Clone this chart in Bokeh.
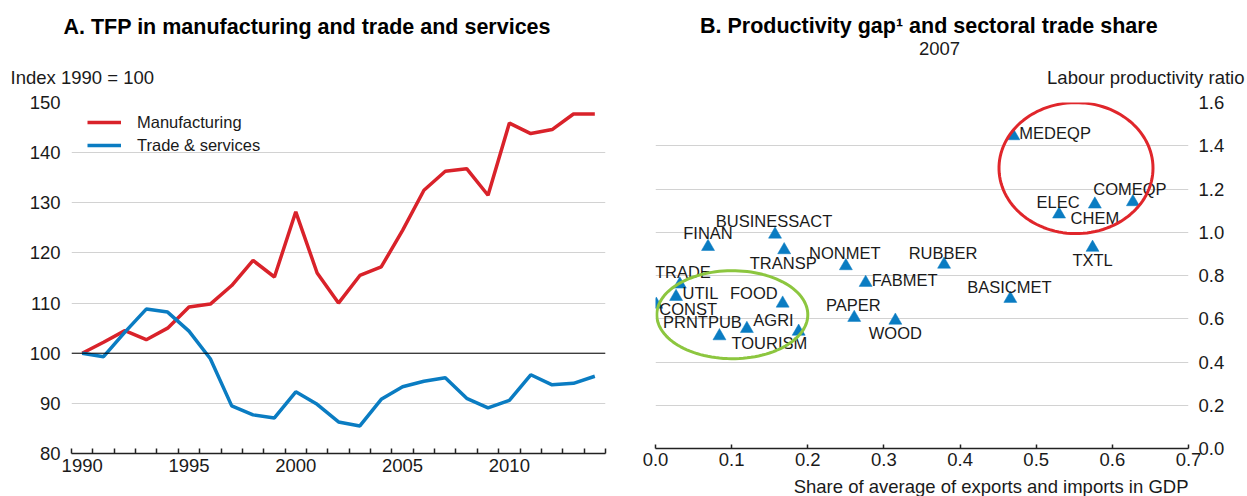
import numpy as np
from bokeh.plotting import figure
from bokeh.layouts import row, column
from bokeh.models import (FixedTicker, Span, Legend, ColumnDataSource,
                          NumeralTickFormatter, PolyAnnotation, Range1d)
from bokeh.core.properties import value
from bokeh.embed import file_html
from bokeh.resources import INLINE

# ---------------- data ----------------
years = list(range(1990, 2015))
manufacturing = [100, 102.2, 104.5, 102.7, 105.0, 109.2, 109.8, 113.5, 118.5, 115.2,
                 128.2, 116.0, 110.0, 115.5, 117.2, 124.5, 132.5, 136.3, 136.8, 131.5,
                 145.9, 143.8, 144.6, 147.7, 147.7]
trade_services = [100, 99.3, 104.2, 108.8, 108.2, 104.4, 98.9, 89.5, 87.7, 87.1,
                  92.3, 89.8, 86.3, 85.5, 90.8, 93.3, 94.4, 95.1, 91.0, 89.1,
                  90.6, 95.7, 93.7, 94.0, 95.4]
year_ticks = [1990, 1995, 2000, 2005, 2010]
left_y_ticks = [80, 90, 100, 110, 120, 130, 140, 150]

sectors = ["MEDEQP", "ELEC", "CHEM", "COMEQP", "TXTL", "RUBBER", "BASICMET",
           "BUSINESSACT", "FINAN", "TRANSP", "NONMET", "FABMET", "TRADE", "UTIL",
           "CONST", "FOOD", "AGRI", "PRNTPUB", "TOURISM", "PAPER", "WOOD"]
trade_share = [0.470, 0.530, 0.577, 0.627, 0.574, 0.379, 0.466,
               0.157, 0.069, 0.169, 0.250, 0.276, 0.032, 0.027,
               0.001, 0.167, 0.188, 0.120, 0.084, 0.261, 0.315]
prod_ratio = [1.445, 1.083, 1.129, 1.140, 0.929, 0.851, 0.693,
              0.990, 0.933, 0.918, 0.844, 0.767, 0.759, 0.702,
              0.666, 0.671, 0.541, 0.554, 0.520, 0.605, 0.592]
right_x_ticks = [0.0, 0.1, 0.2, 0.3, 0.4, 0.5, 0.6, 0.7]
right_y_ticks = [0.0, 0.2, 0.4, 0.6, 0.8, 1.0, 1.2, 1.4, 1.6]

# ---------------- styles / layout ----------------
FONT = "Liberation Sans"
RED = "#d9222a"
BLUE = "#0a7cc2"
GRID = "#d2d2d2"
TXT = "#1a1a1a"

W, H = 1247, 496
HEADER_H = 88
FOOTER_H = 20
SPLIT = 628                       # page x where the right panel starts
L_LEFT, L_TOP, L_W, L_H = 71, 102, 534, 351      # left frame (page px)
R_LEFT, R_TOP, R_W, R_H = 655, 102, 533, 346     # right frame (page px)

# label placement for scatter labels: (align, dx px, dy px downwards)
label_pos = {
    "MEDEQP": ("left", 6, -3), "ELEC": ("center", -1, -12.6), "CHEM": ("center", 0, 13.4),
    "COMEQP": ("center", -3, -13.4), "TXTL": ("center", 0, 12.8), "RUBBER": ("center", -1, -11.1),
    "BASICMET": ("center", -1, -12.1), "BUSINESSACT": ("center", -1, -13.3),
    "FINAN": ("center", 0, -13.4), "TRANSP": ("center", -1, 12.8), "NONMET": ("center", -1, -12.7),
    "FABMET": ("left", 6, -3.1), "TRADE": ("center", 3, -12.4), "UTIL": ("left", 6.5, -3.4),
    "CONST": ("left", 3, 4.2), "FOOD": ("right", -5, -10.8), "AGRI": ("right", -5, -11.5),
    "PRNTPUB": ("right", -5, -6.2), "TOURISM": ("left", 12, 6.5), "PAPER": ("center", -1, -12.7),
    "WOOD": ("center", 0, 12.9),
}

# texts outside the plot frames, placed in page pixels: (x, y, text, align, size, bold)
header_texts = [
    (306.7, 26.7, "A. TFP in manufacturing and trade and services", "center", "21.5px", True),
    (10, 76.5, "Index 1990 = 100", "left", "18.5px", False),
    (928.3, 25.0, "B. Productivity gap¹ and sectoral trade share", "center", "21.5px", True),
    (939, 48.3, "2007", "center", "18.5px", False),
    (1244, 76.5, "Labour productivity ratio", "right", "18.5px", False),
]
footer_texts = [
    (1188, 485.5, "Share of average of exports and imports in GDP", "right", "18.5px", False),
]


def style_common(p):
    p.outline_line_color = None
    p.background_fill_color = "white"
    p.border_fill_color = "white"
    p.xgrid.visible = False
    p.ygrid.grid_line_color = GRID
    p.ygrid.grid_line_width = 1
    for ax in (p.xaxis[0], p.yaxis[0]):
        ax.major_label_text_font = FONT
        ax.major_label_text_font_size = "18.5px"
        ax.major_label_text_color = TXT


def text_band(width, height, x0, y0, texts, border_left=0, border_right=0):
    """A bare figure used as a band of text; its frame spans page pixels
    x0 + border_left .. x0 + width - border_right and y0 .. y0 + height."""
    p = figure(width=width, height=height, output_backend="svg", toolbar_location=None,
               x_axis_type=None, y_axis_type=None,
               x_range=Range1d(x0 + border_left, x0 + width - border_right),
               y_range=Range1d(y0 + height, y0),
               min_border=0, min_border_left=border_left, min_border_right=border_right,
               outline_line_color=None)
    p.background_fill_color = "white"
    p.border_fill_color = "white"
    for (x, y, txt, align, size, bold) in texts:
        p.text(x=[x], y=[y], text=[txt], text_align=align, text_baseline="middle",
               text_font=value(FONT), text_font_size=size,
               text_font_style="bold" if bold else "normal",
               text_color="black" if bold else TXT)
    return p


# ---------------- left panel ----------------
p1_h = H - HEADER_H
p1 = figure(width=SPLIT, height=p1_h, output_backend="svg", toolbar_location=None,
            x_range=Range1d(1989.5, 2014.5), y_range=Range1d(80, 150),
            min_border_left=L_LEFT, min_border_right=SPLIT - L_LEFT - L_W,
            min_border_top=L_TOP - HEADER_H,
            min_border_bottom=p1_h - (L_TOP - HEADER_H) - L_H)
style_common(p1)
p1.yaxis.ticker = FixedTicker(ticks=left_y_ticks)
p1.yaxis.axis_line_color = None
p1.yaxis.major_tick_in = 0
p1.yaxis.major_tick_out = 0
p1.yaxis.minor_tick_line_color = None
p1.yaxis.major_label_standoff = 11
p1.xaxis.ticker = FixedTicker(ticks=year_ticks,
                              minor_ticks=[y - 0.5 for y in years] + [years[-1] + 0.5])
p1.xaxis.major_tick_in = 0
p1.xaxis.major_tick_out = 0
p1.xaxis.minor_tick_in = 5
p1.xaxis.minor_tick_out = 0
p1.xaxis.minor_tick_line_color = "#222222"
p1.xaxis.minor_tick_line_width = 1.5
p1.xaxis.axis_line_color = "#222222"
p1.xaxis.axis_line_width = 1.5
p1.xaxis.major_label_standoff = 5

p1.add_layout(Span(location=100, dimension="width", line_color="black", line_width=1))

r1 = p1.line(years, manufacturing, line_color=RED, line_width=3.5)
r2 = p1.line(years, trade_services, line_color=BLUE, line_width=3.5)

leg = Legend(items=[("Manufacturing", [r1]), ("Trade & services", [r2])],
             location=(16, 298), padding=0, margin=0, spacing=3,
             glyph_width=34, glyph_height=20, label_height=20, label_standoff=16,
             label_text_font=FONT, label_text_font_size="16.5px", label_text_color=TXT,
             border_line_alpha=0, background_fill_alpha=0)
p1.add_layout(leg)

# ---------------- right panel ----------------
p2_w = W - SPLIT
p2_h = H - HEADER_H - FOOTER_H
p2 = figure(width=p2_w, height=p2_h, output_backend="svg", toolbar_location=None,
            x_range=Range1d(0, 0.7), y_range=Range1d(0, 1.6), y_axis_location="right",
            min_border_left=R_LEFT - SPLIT, min_border_right=W - R_LEFT - R_W,
            min_border_top=R_TOP - HEADER_H,
            min_border_bottom=p2_h - (R_TOP - HEADER_H) - R_H)
style_common(p2)
p2.yaxis.ticker = FixedTicker(ticks=right_y_ticks)
p2.yaxis.formatter = NumeralTickFormatter(format="0.0")
p2.yaxis.axis_line_color = None
p2.yaxis.major_tick_in = 0
p2.yaxis.major_tick_out = 0
p2.yaxis.minor_tick_line_color = None
p2.yaxis.major_label_standoff = 10
p2.xaxis.ticker = FixedTicker(ticks=right_x_ticks)
p2.xaxis.formatter = NumeralTickFormatter(format="0.0")
p2.xaxis.major_tick_in = 4
p2.xaxis.major_tick_out = 0
p2.xaxis.major_tick_line_color = "#222222"
p2.xaxis.major_tick_line_width = 1.5
p2.xaxis.minor_tick_line_color = None
p2.xaxis.axis_line_color = "#222222"
p2.xaxis.axis_line_width = 1.5
p2.xaxis.major_label_standoff = 4

# highlight ellipses (screen units relative to the plot frame, y up)
t = np.linspace(0, 2 * np.pi, 120)
red_c, red_r = (1075.5 - R_LEFT, R_TOP + R_H - 167.6), (77.0, 65.5)
green_c, green_r = (731.8 - R_LEFT, R_TOP + R_H - 314.2), (75.5, 44.0)
for (c, r, col) in ((red_c, red_r, "#e0262b"), (green_c, green_r, "#8cc63f")):
    p2.add_layout(PolyAnnotation(xs=list(c[0] + r[0] * np.cos(t)),
                                 ys=list(c[1] + r[1] * np.sin(t)),
                                 xs_units="screen", ys_units="screen",
                                 fill_alpha=0, line_color=col, line_alpha=1, line_width=3))

src = ColumnDataSource(dict(
    x=trade_share, y=prod_ratio, name=sectors,
    align=[label_pos[s][0] for s in sectors],
    dx=[label_pos[s][1] for s in sectors],
    dy=[label_pos[s][2] for s in sectors],
))
p2.scatter("x", "y", source=src, marker="triangle", size=13,
           fill_color=BLUE, line_color=BLUE, line_width=0.5)
p2.text("x", "y", text="name", source=src, x_offset="dx", y_offset="dy",
        text_align="align", text_baseline="middle", text_font=value(FONT),
        text_font_size="16.5px", text_color=TXT)

# ---------------- text bands ----------------
header = text_band(W, HEADER_H, 0, 0, header_texts)
footer = text_band(p2_w, FOOTER_H, SPLIT, H - FOOTER_H, footer_texts,
                   border_left=R_LEFT - SPLIT, border_right=W - R_LEFT - R_W)

layout = column(header, row(p1, column(p2, footer)))
open("out.html", "w").write(file_html(layout, INLINE))
